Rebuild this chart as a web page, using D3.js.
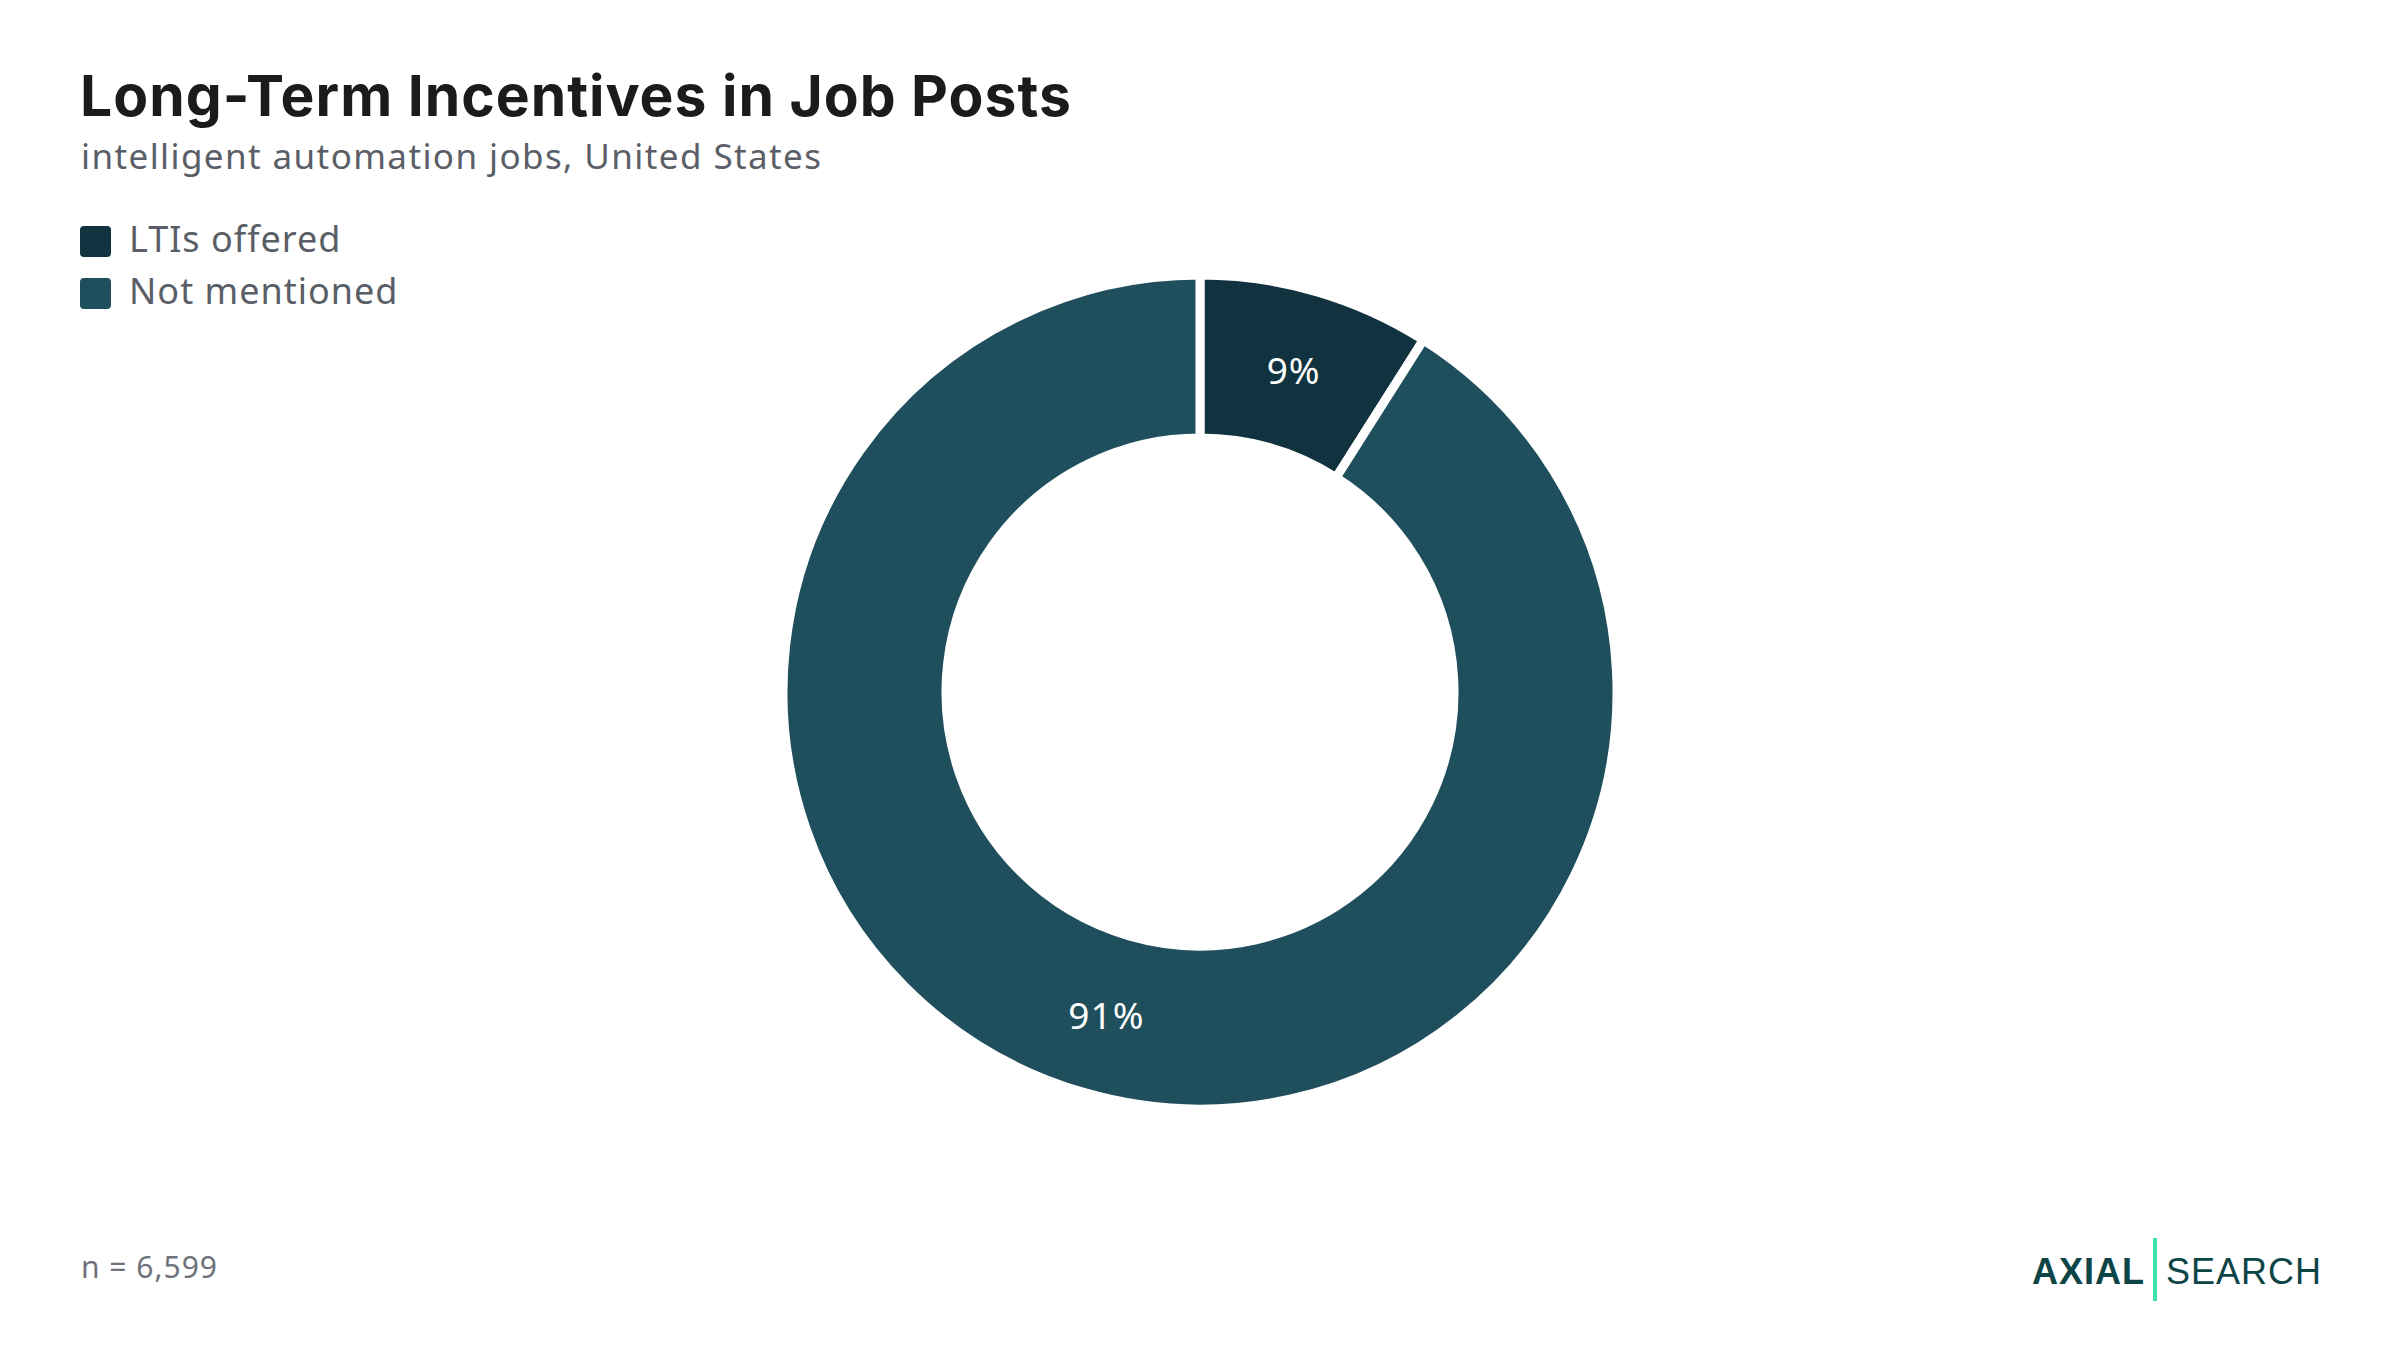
<!DOCTYPE html>
<html>
<head>
<meta charset="utf-8">
<script src="https://cdn.jsdelivr.net/npm/d3@7"></script>
<style>
  html, body { margin: 0; padding: 0; background: #ffffff; }
  svg { display: block; }
</style>
</head>
<body>
<svg id="chart" width="2400" height="1350"></svg>
<script>
const categories = ["LTIs offered", "Not mentioned"];
const values = [9, 91];
const valueLabels = ["9%", "91%"];
const colors = ["#11333f", "#1f4e5c"];
const titleText = "Long-Term Incentives in Job Posts";
const subtitleText = "intelligent automation jobs, United States";
const noteText = "n = 6,599";

const svg = d3.select("#chart");
const W = 2400, H = 1350;

svg.append("rect").attr("width", W).attr("height", H).attr("fill", "#ffffff");

// Title & subtitle
svg.append("text")
  .attr("x", 80).attr("y", 116)
  .attr("font-family", "Inter, Lato, sans-serif")
  .attr("font-weight", 700)
  .attr("font-size", 57)
  .attr("letter-spacing", 1)
  .attr("fill", "#1b1b1b")
  .text(titleText);

svg.append("text")
  .attr("x", 81).attr("y", 169)
  .attr("font-family", "'Noto Sans', sans-serif")
  .attr("font-size", 35)
  .attr("letter-spacing", 1.4)
  .attr("fill", "#5a5e66")
  .text(subtitleText);

// Legend
const legend = svg.append("g").attr("transform", "translate(80,226)");
const li = legend.selectAll("g").data(categories).enter().append("g")
  .attr("transform", (d, i) => `translate(0,${i * 52})`);
li.append("rect")
  .attr("width", 31).attr("height", 31).attr("rx", 4)
  .attr("fill", (d, i) => colors[i]);
li.append("text")
  .attr("x", 49).attr("y", 26)
  .attr("font-family", "'Noto Sans', sans-serif")
  .attr("font-size", 36)
  .attr("letter-spacing", 1)
  .attr("fill", "#5a5e66")
  .text(d => d);

// Donut
const cx = 1200, cy = 692;
const outerR = 417, innerR = 254;
const pie = d3.pie().sort(null).value(d => d)
  .startAngle(0).endAngle(2 * Math.PI);
const arcs = pie(values);
const arc = d3.arc().innerRadius(innerR).outerRadius(outerR);
const g = svg.append("g").attr("transform", `translate(${cx},${cy})`);
g.selectAll("path").data(arcs).enter().append("path")
  .attr("d", arc)
  .attr("fill", (d, i) => colors[i])
  .attr("stroke", "#ffffff")
  .attr("stroke-width", 9)
  .attr("stroke-linejoin", "miter");

g.selectAll("text.lbl").data(arcs).enter().append("text")
  .attr("class", "lbl")
  .attr("transform", d => `translate(${arc.centroid(d)})`)
  .attr("text-anchor", "middle")
  .attr("dominant-baseline", "central")
  .attr("font-family", "'Noto Sans', sans-serif")
  .attr("font-size", 37)
  .attr("letter-spacing", 1)
  .attr("fill", "#ffffff")
  .text((d, i) => valueLabels[i]);

// Footnote
svg.append("text")
  .attr("x", 81).attr("y", 1278)
  .attr("font-family", "'Noto Sans', sans-serif")
  .attr("font-size", 30)
  .attr("letter-spacing", 1)
  .attr("fill", "#6e7179")
  .text(noteText);

// Logo
const logo = svg.append("g");
logo.append("text")
  .attr("x", 2032).attr("y", 1284)
  .attr("font-family", "'Liberation Sans', Arial, sans-serif")
  .attr("font-weight", 700)
  .attr("font-size", 36)
  .attr("letter-spacing", 1)
  .attr("fill", "#0d4547")
  .text("AXIAL");
logo.append("rect")
  .attr("x", 2153).attr("y", 1238).attr("width", 4).attr("height", 63)
  .attr("fill", "#3de3a6");
logo.append("text")
  .attr("x", 2166).attr("y", 1284)
  .attr("font-family", "'Liberation Sans', Arial, sans-serif")
  .attr("font-size", 36)
  .attr("letter-spacing", 1)
  .attr("fill", "#0d4547")
  .text("SEARCH");
</script>
</body>
</html>
